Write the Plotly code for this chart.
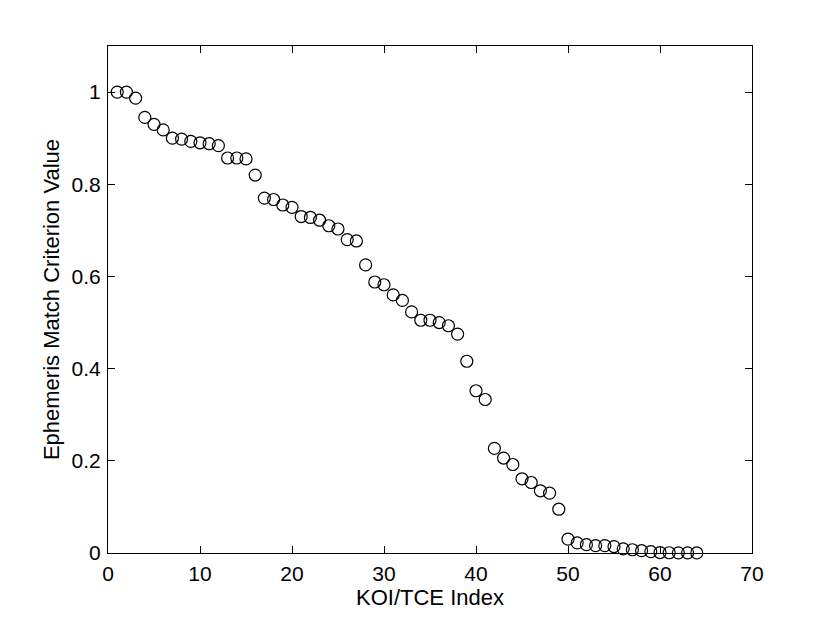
import plotly.graph_objects as go

koi_index = list(range(1, 65))
criterion_value = [
    1.000, 1.000, 0.987, 0.945, 0.930, 0.918, 0.900, 0.898, 0.893, 0.890,
    0.888, 0.884, 0.857, 0.857, 0.855, 0.820, 0.770, 0.767, 0.755, 0.750,
    0.730, 0.728, 0.722, 0.710, 0.703, 0.680, 0.677, 0.625, 0.588, 0.582,
    0.560, 0.548, 0.523, 0.505, 0.505, 0.500, 0.493, 0.475, 0.416, 0.352,
    0.333, 0.227, 0.206, 0.192, 0.161, 0.153, 0.135, 0.130, 0.095, 0.030,
    0.022, 0.018, 0.016, 0.016, 0.014, 0.009, 0.007, 0.005, 0.003, 0.001,
    0.0005, 0.0003, 0.0002, 0.0001,
]
x_ticks = [0, 10, 20, 30, 40, 50, 60, 70]
y_ticks = [0, 0.2, 0.4, 0.6, 0.8, 1.0]
y_tick_labels = ["0", "0.2", "0.4", "0.6", "0.8", "1"]

fig = go.Figure(go.Scatter(
    x=koi_index, y=criterion_value, mode="markers",
    marker=dict(symbol="circle-open", size=12, color="black", line=dict(width=1.2, color="black")),
    cliponaxis=False,
))

tick_font = dict(family="Liberation Sans, Arial, sans-serif", size=21, color="black")
title_font = dict(family="Liberation Sans, Arial, sans-serif", size=22, color="black")
axis_common = dict(
    showgrid=False, zeroline=False, showline=True, linecolor="black", linewidth=1,
    mirror="ticks", ticks="inside", ticklen=7, tickcolor="black", tickwidth=1,
    tickfont=tick_font,
)
fig.update_layout(
    width=830, height=625,
    margin=dict(l=100, r=86, t=38, b=80),
    paper_bgcolor="white", plot_bgcolor="white",
    showlegend=False,
    font=tick_font,
    xaxis=dict(range=[0, 70], tickvals=x_ticks, ticklabelstandoff=2,
               title=dict(text="KOI/TCE Index", font=title_font, standoff=1), **axis_common),
    yaxis=dict(range=[0, 1.1], tickvals=y_ticks, ticktext=y_tick_labels, ticklabelstandoff=2,
               title=dict(text="Ephemeris Match Criterion Value", font=title_font, standoff=5), **axis_common),
)
fig.write_html("out.html")
